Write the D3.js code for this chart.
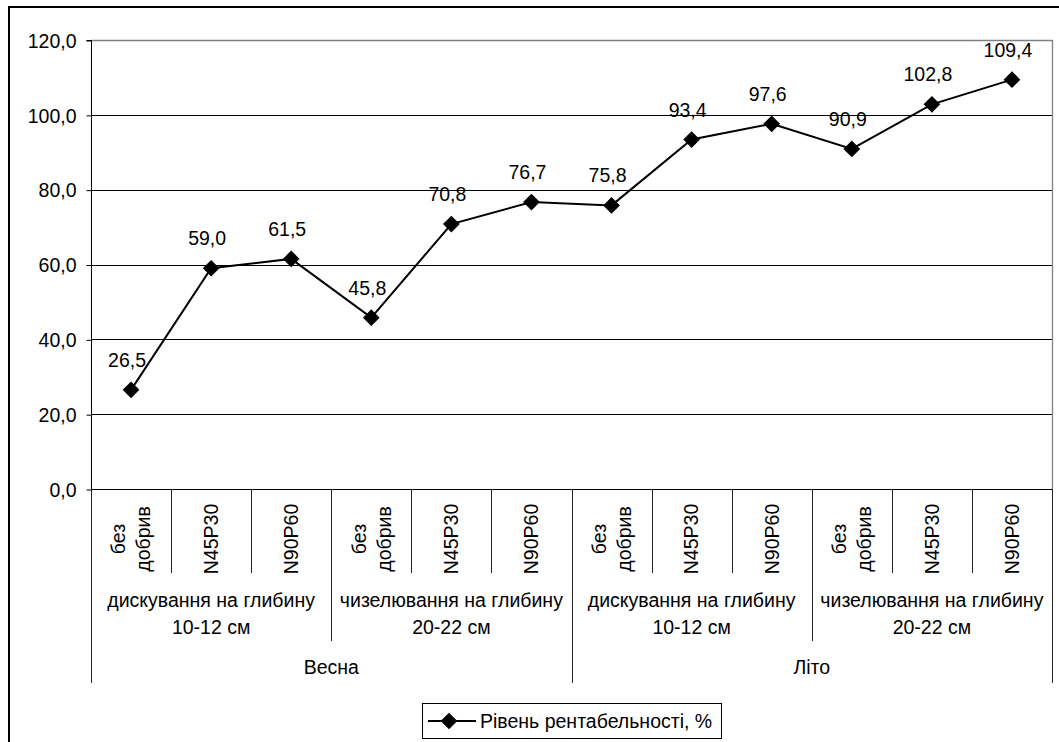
<!DOCTYPE html>
<html>
<head>
<meta charset="utf-8">
<script src="https://cdn.jsdelivr.net/npm/d3@7"></script>
<style>
  html, body { margin: 0; padding: 0; background: #fff; }
  svg { display: block; font-family: "Liberation Sans", Arial, sans-serif; }
</style>
</head>
<body>
<svg id="chart" width="1059" height="742"></svg>
<script>
// Season / tillage / fertiliser hierarchy of the category axis
const seasons = ["Весна", "Літо"];
const tillage = [
  ["дискування на глибину", "10-12 см"],
  ["чизелювання на глибину", "20-22 см"]
];
const fertilizers = [["без", "добрив"], ["N45P30"], ["N90P60"]];

// Profitability level, % (12 points in category order)
const profitability = [26.5, 59.0, 61.5, 45.8, 70.8, 76.7, 75.8, 93.4, 97.6, 90.9, 102.8, 109.4];

const yTicks = [0, 20, 40, 60, 80, 100, 120];
const seriesName = "Рівень рентабельності, %";

const fmt = v => v.toFixed(1).replace(".", ",");
const FONT = 19.5;

// Flat list of leaf categories
const cats = [];
seasons.forEach((s, si) => tillage.forEach((t, ti) => fertilizers.forEach((f, fi) => {
  cats.push({ id: `${si}-${ti}-${fi}`, season: si, till: ti, fert: fi, lines: f });
})));
const data = cats.map((c, i) => ({ ...c, value: profitability[i] }));

const svg = d3.select("#chart");

// outer frame
svg.append("rect")
  .attr("x", 9).attr("y", 7)
  .attr("width", 1100).attr("height", 800)
  .attr("fill", "#fff").attr("stroke", "#000").attr("stroke-width", 2);

const plot = { left: 91, right: 1052, top: 40, bottom: 489 };

const x = d3.scaleBand()
  .domain(cats.map(c => c.id))
  .range([plot.left, plot.right])
  .paddingInner(0).paddingOuter(0);

const y = d3.scaleLinear()
  .domain([0, 120])
  .range([plot.bottom, plot.top]);

// horizontal gridlines
svg.append("g")
  .selectAll("line")
  .data(yTicks.filter(t => t > 0 && t < 120))
  .join("line")
  .attr("x1", plot.left).attr("x2", plot.right)
  .attr("y1", d => Math.round(y(d)) + 0.5).attr("y2", d => Math.round(y(d)) + 0.5)
  .attr("stroke", "#000").attr("stroke-width", 1);

// plot area border (top / right)
svg.append("path")
  .attr("d", `M${plot.left},${plot.top + 0.5}H${plot.right + 0.5}V${plot.bottom}`)
  .attr("fill", "none").attr("stroke", "#808080").attr("stroke-width", 1.3);

// y axis
const yAxis = d3.axisLeft(y)
  .tickValues(yTicks)
  .tickFormat(fmt)
  .tickSize(5)
  .tickPadding(10);
const yg = svg.append("g")
  .attr("transform", `translate(${plot.left + 0.5},0.5)`)
  .call(yAxis);
yg.select(".domain").attr("stroke", "#000").attr("d", `M-5,${y(120)}H0V${y(0)}`);
yg.selectAll(".tick line").attr("stroke", "#000");
yg.selectAll(".tick text")
  .attr("font-size", FONT)
  .attr("font-family", "Liberation Sans, Arial, sans-serif")
  .attr("fill", "#000")
  .attr("dy", "0.35em");

// x axis baseline
svg.append("line")
  .attr("x1", plot.left).attr("x2", plot.right + 1)
  .attr("y1", plot.bottom + 0.5).attr("y2", plot.bottom + 0.5)
  .attr("stroke", "#000").attr("stroke-width", 1);

// --- multi-level category axis ---
const level1Bottom = 573, level2Bottom = 641, level3Bottom = 683;
const axisG = svg.append("g");

// dividers: at each category edge, length depends on the level that changes there
const edges = d3.range(cats.length + 1).map(i => {
  let len = level1Bottom;
  if (i === 0 || i === cats.length) len = level3Bottom;
  else {
    const prev = cats[i - 1], next = cats[i];
    if (prev.season !== next.season) len = level3Bottom;
    else if (prev.till !== next.till) len = level2Bottom;
  }
  const xp = i < cats.length ? x(cats[i].id) : x(cats[cats.length - 1].id) + x.bandwidth();
  return { xp, len };
});
axisG.selectAll("line.div")
  .data(edges)
  .join("line")
  .attr("class", "div")
  .attr("x1", d => Math.round(d.xp) + 0.5).attr("x2", d => Math.round(d.xp) + 0.5)
  .attr("y1", plot.bottom).attr("y2", d => d.len)
  .attr("stroke", "#222").attr("stroke-width", 1);

// fertiliser labels, rotated
const rotG = axisG.selectAll("g.fert")
  .data(cats)
  .join("g")
  .attr("class", "fert")
  .attr("transform", d => `translate(${x(d.id) + x.bandwidth() / 2},539) rotate(-90)`);
rotG.each(function (d) {
  const g = d3.select(this);
  const n = d.lines.length, lh = 25;
  d.lines.forEach((ln, k) => {
    g.append("text")
      .attr("x", 0)
      .attr("y", (k - (n - 1) / 2) * lh + FONT * 0.35)
      .attr("text-anchor", "middle")
      .attr("font-size", FONT)
      .text(ln);
  });
});

// tillage labels
const tillGroups = d3.groups(cats, c => `${c.season}-${c.till}`).map(([k, arr]) => ({
  key: k, till: arr[0].till,
  cx: (x(arr[0].id) + x(arr[arr.length - 1].id) + x.bandwidth()) / 2
}));
tillGroups.forEach(t => {
  tillage[t.till].forEach((ln, k) => {
    axisG.append("text")
      .attr("x", t.cx).attr("y", 607 + k * 26.5)
      .attr("text-anchor", "middle")
      .attr("font-size", FONT)
      .text(ln);
  });
});

// season labels
const seasonGroups = d3.groups(cats, c => c.season).map(([s, arr]) => ({
  s, cx: (x(arr[0].id) + x(arr[arr.length - 1].id) + x.bandwidth()) / 2
}));
axisG.selectAll("text.season")
  .data(seasonGroups)
  .join("text")
  .attr("class", "season")
  .attr("x", d => d.cx).attr("y", 674)
  .attr("text-anchor", "middle")
  .attr("font-size", FONT)
  .text(d => seasons[d.s]);

// --- series ---
const cx = d => x(d.id) + x.bandwidth() / 2;
const line = d3.line().x(cx).y(d => y(d.value));
svg.append("path")
  .datum(data)
  .attr("d", line)
  .attr("fill", "none")
  .attr("stroke", "#000")
  .attr("stroke-width", 2);

const diamond = d3.symbol().type(d3.symbolSquare).size(140);
svg.append("g")
  .selectAll("path")
  .data(data)
  .join("path")
  .attr("d", diamond)
  .attr("transform", d => `translate(${cx(d)},${y(d.value)}) rotate(45)`)
  .attr("fill", "#000");

// value labels
svg.append("g")
  .selectAll("text")
  .data(data)
  .join("text")
  .attr("x", d => cx(d) - 4)
  .attr("y", d => y(d.value) - 23)
  .attr("text-anchor", "middle")
  .attr("font-size", FONT)
  .text(d => fmt(d.value));

// --- legend ---
const lg = svg.append("g");
lg.append("rect")
  .attr("x", 422.5).attr("y", 703.5)
  .attr("width", 299).attr("height", 35)
  .attr("fill", "#fff").attr("stroke", "#000").attr("stroke-width", 1);
lg.append("line")
  .attr("x1", 428).attr("x2", 476)
  .attr("y1", 721).attr("y2", 721)
  .attr("stroke", "#000").attr("stroke-width", 2);
lg.append("path")
  .attr("d", diamond)
  .attr("transform", "translate(449,721) rotate(45)")
  .attr("fill", "#000");
lg.append("text")
  .attr("x", 480).attr("y", 727.5)
  .attr("font-size", FONT)
  .text(seriesName);
</script>
</body>
</html>
